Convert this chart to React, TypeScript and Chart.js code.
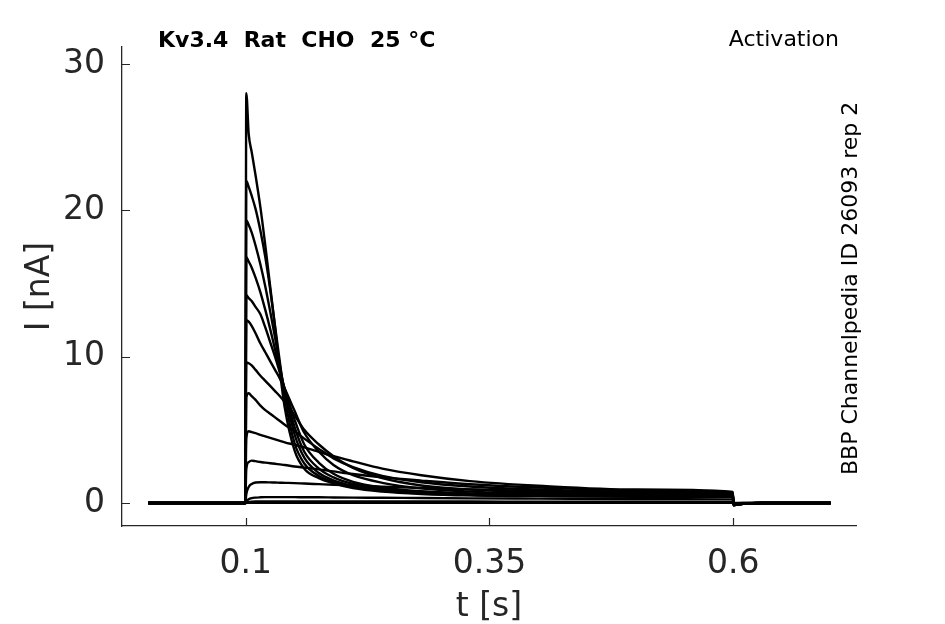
import React, { useEffect, useRef } from 'react';
import { Chart, registerables } from 'chart.js';

Chart.register(...registerables);

// sample times of the recorded sweeps [s]
const timeSec = [0, 0.0995, 0.1005, 0.103, 0.106, 0.11, 0.115, 0.12, 0.125, 0.13, 0.135, 0.14, 0.15, 0.16, 0.175, 0.19, 0.21, 0.24, 0.28, 0.33, 0.4, 0.5, 0.5995, 0.6005, 0.61, 0.63, 0.7];

// currents per sweep [nA], one array per voltage step
const sweep1 = [0, 0, 28, 25.2, 24, 22.4, 20.2, 17.6, 14.8, 12.0, 9.0, 6.5, 3.6, 2.35, 1.7, 1.35, 1.02, 0.78, 0.62, 0.52, 0.47, 0.43, 0.42, -0.15, -0.05, 0, 0];
const sweep2 = [0, 0, 22, 21.6, 21.0, 20.1, 18.6, 16.8, 14.6, 12.1, 9.6, 7.2, 4.1, 2.7, 1.85, 1.45, 1.1, 0.84, 0.66, 0.55, 0.5, 0.46, 0.44, -0.15, -0.05, 0, 0];
const sweep3 = [0, 0, 19.3, 19.0, 18.5, 17.6, 16.3, 14.8, 13.1, 11.3, 9.4, 7.6, 4.7, 3.1, 2.05, 1.55, 1.17, 0.88, 0.69, 0.57, 0.52, 0.48, 0.46, -0.15, -0.05, 0, 0];
const sweep4 = [0, 0, 16.8, 16.5, 16.1, 15.4, 14.4, 13.2, 11.9, 10.5, 9.1, 7.7, 5.2, 3.5, 2.35, 1.75, 1.3, 0.96, 0.74, 0.61, 0.55, 0.5, 0.48, -0.14, -0.05, 0, 0];
const sweep5 = [0, 0, 14.2, 14.0, 13.8, 13.4, 12.9, 12.0, 11.0, 10.0, 8.9, 7.8, 5.7, 4.0, 2.75, 2.0, 1.45, 1.06, 0.8, 0.66, 0.58, 0.52, 0.5, -0.14, -0.05, 0, 0];
const sweep6 = [0, 0, 12.5, 12.4, 12.1, 11.6, 10.9, 10.3, 9.7, 9.1, 8.5, 7.8, 6.3, 4.8, 3.5, 2.6, 1.9, 1.38, 1.0, 0.78, 0.65, 0.57, 0.53, -0.13, -0.05, 0, 0];
const sweep7 = [0, 0, 9.6, 9.55, 9.4, 9.1, 8.7, 8.35, 8.0, 7.65, 7.3, 6.9, 6.0, 5.0, 4.0, 3.2, 2.4, 1.7, 1.2, 0.92, 0.75, 0.62, 0.57, -0.12, -0.04, 0, 0];
const sweep8 = [0, 0, 7.2, 7.5, 7.3, 7.05, 6.65, 6.35, 6.1, 5.85, 5.6, 5.35, 4.9, 4.4, 3.7, 3.05, 2.45, 1.85, 1.42, 1.13, 0.92, 0.76, 0.66, -0.12, -0.04, 0, 0];
const sweep9 = [0, 0, 4.4, 4.9, 4.85, 4.78, 4.65, 4.55, 4.45, 4.35, 4.25, 4.15, 3.98, 3.8, 3.5, 3.2, 2.85, 2.35, 1.9, 1.5, 1.18, 0.92, 0.76, -0.1, -0.04, 0, 0];
const sweep10 = [0, 0, 2.3, 2.8, 2.9, 2.86, 2.8, 2.76, 2.72, 2.68, 2.64, 2.6, 2.5, 2.42, 2.3, 2.16, 1.98, 1.76, 1.53, 1.28, 1.06, 0.87, 0.74, -0.08, -0.03, 0, 0];
const sweep11 = [0, 0, 0.6, 1.1, 1.3, 1.4, 1.42, 1.42, 1.41, 1.4, 1.39, 1.38, 1.36, 1.33, 1.29, 1.25, 1.2, 1.12, 1.03, 0.93, 0.82, 0.7, 0.62, -0.06, -0.02, 0, 0];
const sweep12 = [0, 0, 0.1, 0.25, 0.33, 0.37, 0.39, 0.4, 0.4, 0.4, 0.4, 0.4, 0.4, 0.39, 0.39, 0.38, 0.37, 0.36, 0.34, 0.32, 0.3, 0.27, 0.25, -0.04, -0.01, 0, 0];
const sweep13 = [0, 0, 0.03, 0.07, 0.09, 0.1, 0.1, 0.1, 0.1, 0.1, 0.1, 0.1, 0.1, 0.1, 0.1, 0.1, 0.1, 0.1, 0.1, 0.1, 0.09, 0.09, 0.08, -0.02, 0, 0, 0];
const sweep14 = [0, 0, 0.01, 0.02, 0.02, 0.02, 0.02, 0.02, 0.02, 0.02, 0.02, 0.02, 0.02, 0.02, 0.02, 0.02, 0.02, 0.02, 0.02, 0.02, 0.02, 0.02, 0.02, 0, 0, 0, 0];

const sweeps = [sweep1, sweep2, sweep3, sweep4, sweep5, sweep6, sweep7, sweep8, sweep9, sweep10, sweep11, sweep12, sweep13, sweep14];

const xTickValues = [0.1, 0.35, 0.6];
const yTickValues = [0, 10, 20, 30];

const titleText = 'Kv3.4  Rat  CHO  25 °C';
const protocolText = 'Activation';
const sourceText = 'BBP Channelpedia ID 26093 rep 2';

const AXIS_COLOR = '#262626';
const FONT = "'DejaVu Sans', sans-serif";

// matplotlib-style ticks pointing into the plot
const inwardTicks = {
  id: 'inwardTicks',
  afterDatasetsDraw(chart: any) {
    const { ctx, chartArea, scales } = chart;
    ctx.save();
    ctx.strokeStyle = AXIS_COLOR;
    ctx.lineWidth = 1.2;
    ctx.beginPath();
    scales.x.ticks.forEach((t: any) => {
      const px = Math.round(scales.x.getPixelForValue(t.value)) + 0.5;
      ctx.moveTo(px, chartArea.bottom);
      ctx.lineTo(px, chartArea.bottom - 8);
    });
    scales.y.ticks.forEach((t: any) => {
      const py = Math.round(scales.y.getPixelForValue(t.value)) + 0.5;
      ctx.moveTo(chartArea.left, py);
      ctx.lineTo(chartArea.left + 8, py);
    });
    ctx.stroke();
    ctx.restore();
  },
};

const textNotes = {
  id: 'textNotes',
  afterDraw(chart: any) {
    const { ctx } = chart;
    ctx.save();
    ctx.fillStyle = '#000';
    ctx.textBaseline = 'alphabetic';
    ctx.font = `bold 22px ${FONT}`;
    ctx.textAlign = 'left';
    ctx.fillText(titleText, 158, 47);
    ctx.font = `22px ${FONT}`;
    ctx.textAlign = 'right';
    ctx.fillText(protocolText, 839, 46);
    ctx.translate(857, 475);
    ctx.rotate(-Math.PI / 2);
    ctx.textAlign = 'left';
    ctx.fillText(sourceText, 0, 0);
    ctx.restore();
  },
};

export default function App() {
  const canvasRef = useRef<HTMLCanvasElement>(null);

  useEffect(() => {
    if (!canvasRef.current) return;
    const datasets = sweeps.map((sweep, i) => ({
      label: `sweep ${i + 1}`,
      data: timeSec.map((t, j) => ({ x: t, y: sweep[j] })),
      borderColor: '#000',
      borderWidth: 2.4,
      pointRadius: 0,
      showLine: true,
      fill: false,
      cubicInterpolationMode: 'monotone' as const,
    }));

    const chart = new Chart(canvasRef.current, {
      type: 'scatter',
      data: { datasets },
      options: {
        animation: false,
        responsive: true,
        maintainAspectRatio: false,
        layout: { padding: { top: 47, right: 89, left: 0, bottom: 0 } },
        plugins: { legend: { display: false }, tooltip: { enabled: false } },
        scales: {
          x: {
            type: 'linear',
            min: -0.027,
            max: 0.726,
            afterBuildTicks: (scale: any) => {
              scale.ticks = xTickValues.map(v => ({ value: v }));
            },
            afterFit: (scale: any) => {
              scale.height = 98;
            },
            ticks: {
              color: AXIS_COLOR,
              font: { family: FONT, size: 33 },
              padding: 19,
              maxRotation: 0,
              autoSkip: false,
              callback: (v: any) => String(v),
            },
            grid: { display: false, drawTicks: false },
            border: { display: true, color: AXIS_COLOR, width: 1.3 },
            title: {
              display: true,
              text: 't [s]',
              color: AXIS_COLOR,
              font: { family: FONT, size: 33 },
              padding: { top: 0, bottom: -3 },
            },
          },
          y: {
            type: 'linear',
            min: -1.57,
            max: 31.16,
            afterBuildTicks: (scale: any) => {
              scale.ticks = yTickValues.map(v => ({ value: v }));
            },
            afterFit: (scale: any) => {
              scale.width = 122;
            },
            ticks: {
              color: AXIS_COLOR,
              font: { family: FONT, size: 33 },
              padding: 17,
              autoSkip: false,
            },
            grid: { display: false, drawTicks: false },
            border: { display: true, color: AXIS_COLOR, width: 1.3 },
            title: {
              display: true,
              text: 'I [nA]',
              color: AXIS_COLOR,
              font: { family: FONT, size: 33 },
              padding: { top: 21, bottom: 0 },
            },
          },
        },
      },
      plugins: [inwardTicks, textNotes],
    });

    return () => {
      chart.destroy();
    };
  }, []);

  return (
    <div style={{ position: 'absolute', left: 0, top: 0, width: 945, height: 624, background: '#fff' }}>
      <canvas ref={canvasRef} />
    </div>
  );
}
